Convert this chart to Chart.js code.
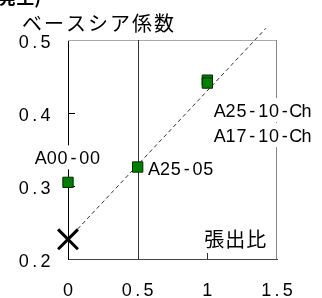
<!DOCTYPE html>
<html><head><meta charset="utf-8">
<script src="https://cdn.jsdelivr.net/npm/chart.js@4"></script>
<style>html,body{margin:0;padding:0;background:#fff;overflow:hidden}</style>
</head><body><canvas id="c" width="322" height="298"></canvas>
<script>
const xTicks = [0, 0.5, 1, 1.5];
const yTicks = [0.2, 0.3, 0.4, 0.5];
const xTickLabels = ['0', '0.5', '1', '1.5'];
const yTickLabels = ['0.2', '0.3', '0.4', '0.5'];
const pointNames = ['A00-00', 'A25-05', 'A25-10-Ch', 'A17-10-Ch'];
const pointX = [0, 0.5, 1, 1];
const pointY = [0.305, 0.326, 0.445, 0.441];
const crossX = [0];
const crossY = [0.227];
const trendX = [0, 1.42];
const trendY = [0.227, 0.516];
const xTitle = '張出比';
const yTitle = 'ベースシア係数';
const cornerNote = '(発生)';

// label styling (offsets in px, alignment)
const labelStyle = [
  {dx: 0, dy: -25, align: 'center'},
  {dx: 11, dy: 2, align: 'left'},
  {dx: 7, dy: 30, align: 'left'},
  {dx: 7, dy: 52, align: 'left'}
];
const LAT_SIZE = 18;
const CELL = 10.85;
const latFont = LAT_SIZE + 'px "Liberation Sans", Arial, sans-serif';
const cjkFont = '20px "Noto Sans CJK JP", sans-serif';

// draw text in fixed-width cells (like a half-width terminal font)
function drawMono(ctx, text, x, cy, align) {
  const chars = Array.from(text);
  const W = chars.length * CELL;
  const start = align === 'left' ? x : align === 'right' ? x - W : x - W / 2;
  ctx.save();
  ctx.font = latFont;
  ctx.textAlign = 'center';
  ctx.textBaseline = 'alphabetic';
  const base = cy + 0.358 * LAT_SIZE;
  chars.forEach((ch, i) => ctx.fillText(ch, start + CELL * (i + 0.5), base));
  ctx.restore();
  return {left: start, width: W};
}

const deco = {
  id: 'deco',
  beforeDatasetsDraw(chart) {
    const {ctx, chartArea: a, scales: {x, y}} = chart;
    ctx.save();
    ctx.lineWidth = 1;
    ctx.strokeStyle = '#aaaaaa';
    ctx.beginPath(); ctx.moveTo(a.left, a.top + 0.5); ctx.lineTo(a.right, a.top + 0.5); ctx.stroke();
    ctx.strokeStyle = '#888888';
    ctx.beginPath(); ctx.moveTo(a.right - 0.5, a.top); ctx.lineTo(a.right - 0.5, a.bottom); ctx.stroke();
    ctx.strokeStyle = '#333333';
    const vx = Math.round(x.getPixelForValue(0.5)) + 0.5;
    ctx.beginPath(); ctx.moveTo(vx, a.top); ctx.lineTo(vx, a.bottom); ctx.stroke();
    [0.5, 1].forEach(v => {
      const px = Math.round(x.getPixelForValue(v)) + 0.5;
      ctx.beginPath(); ctx.moveTo(px, a.bottom); ctx.lineTo(px, a.bottom - 6); ctx.stroke();
    });
    ctx.strokeStyle = '#000';
    [0.3, 0.4].forEach(v => {
      const py = Math.round(y.getPixelForValue(v)) + 0.5;
      ctx.beginPath(); ctx.moveTo(a.left, py); ctx.lineTo(a.left + 7, py); ctx.stroke();
    });
    // tick labels
    ctx.fillStyle = '#000';
    x.ticks.forEach((t, i) => drawMono(ctx, xTickLabels[i], x.getPixelForValue(t.value), a.bottom + 31, 'center'));
    y.ticks.forEach((t, i) => drawMono(ctx, yTickLabels[i], a.left - 17, y.getPixelForValue(t.value) + 2, 'right'));
    ctx.restore();
  },
  afterDatasetsDraw(chart) {
    const {ctx, chartArea: a, scales: {x, y}} = chart;
    ctx.save();
    pointNames.forEach((name, i) => {
      const st = labelStyle[i];
      const px = x.getPixelForValue(pointX[i]) + st.dx;
      const py = y.getPixelForValue(pointY[i]) + st.dy;
      const W = Array.from(name).length * CELL;
      const left = st.align === 'center' ? px - W / 2 : px;
      ctx.fillStyle = '#fff';
      ctx.fillRect(left - 1, py - 12, W + 2, 24);
      ctx.fillStyle = '#000';
      drawMono(ctx, name, px, py, st.align);
    });
    ctx.fillStyle = '#000';
    ctx.font = cjkFont;
    ctx.textAlign = 'left';
    ctx.textBaseline = 'middle';
    ctx.letterSpacing = '2px';
    ctx.fillText(yTitle, 22, 23);
    ctx.letterSpacing = '1px';
    ctx.fillText(xTitle, x.getPixelForValue(1) - 3, a.bottom - 20);
    ctx.letterSpacing = '0px';
    ctx.font = 'bold 18px "Noto Sans CJK JP", sans-serif';
    ctx.textAlign = 'right';
    ctx.fillText(cornerNote, 41, -3);
    ctx.restore();
  }
};

new Chart(document.getElementById('c'), {
  type: 'scatter',
  data: {
    datasets: [
      {
        type: 'line',
        data: trendX.map((v, i) => ({x: v, y: trendY[i]})),
        borderColor: '#333333',
        borderWidth: 1,
        borderDash: [4, 3],
        pointRadius: 0,
        fill: false,
        clip: false,
        order: 3
      },
      {
        data: pointX.map((v, i) => ({x: v, y: pointY[i]})),
        pointStyle: 'rect',
        pointRadius: 7.3,
        backgroundColor: '#008000',
        borderColor: '#002a00',
        borderWidth: 1,
        clip: false,
        order: 2
      },
      {
        data: crossX.map((v, i) => ({x: v, y: crossY[i]})),
        pointStyle: 'crossRot',
        pointRadius: 14,
        borderColor: '#000',
        borderWidth: 3,
        clip: false,
        order: 1
      }
    ]
  },
  options: {
    responsive: false,
    devicePixelRatio: 1,
    animation: false,
    events: [],
    layout: {padding: {top: 40, right: 45, left: 0, bottom: 0}},
    plugins: {legend: {display: false}, tooltip: {enabled: false}, title: {display: false}},
    scales: {
      x: {
        type: 'linear', min: 0, max: 1.5,
        afterBuildTicks: s => { s.ticks = xTicks.map(v => ({value: v})); },
        afterFit: s => { s.height = 39; },
        grid: {display: false, drawTicks: false},
        border: {display: true, color: '#444444', width: 1},
        ticks: {display: false}
      },
      y: {
        type: 'linear', min: 0.2, max: 0.5,
        afterBuildTicks: s => { s.ticks = yTicks.map(v => ({value: v})); },
        afterFit: s => { s.width = 68; },
        grid: {display: false, drawTicks: false},
        border: {display: true, color: '#000', width: 1},
        ticks: {display: false}
      }
    }
  },
  plugins: [deco]
});
</script>
</body></html>
